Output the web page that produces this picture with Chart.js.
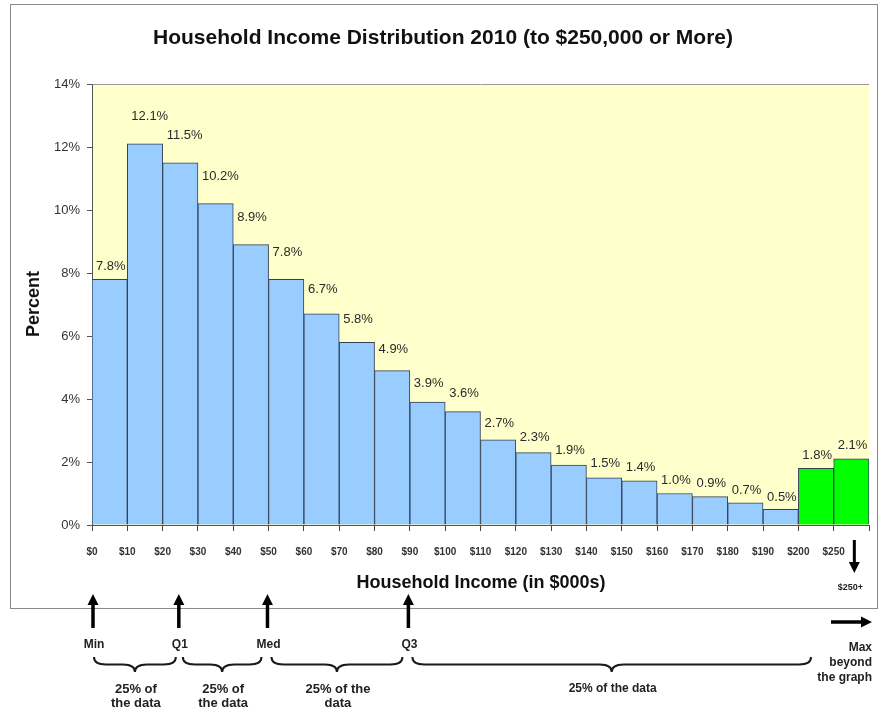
<!DOCTYPE html>
<html>
<head>
<meta charset="utf-8">
<script src="https://cdn.jsdelivr.net/npm/chart.js@4.4.0/dist/chart.umd.min.js"></script>
<style>
  html, body { margin: 0; padding: 0; background: #ffffff; }
  #wrap { width: 884px; height: 711px; position: relative; }
</style>
</head>
<body>
<div id="wrap"><canvas id="c" width="884" height="711"></canvas></div>
<script>
// Lower edge of each income bin, in $000s
const binStart = [0, 10, 20, 30, 40, 50, 60, 70, 80, 90, 100, 110, 120, 130, 140, 150, 160, 170, 180, 190, 200, 250];
// Share of households in each bin (%)
const percent = [7.8, 12.1, 11.5, 10.2, 8.9, 7.8, 6.7, 5.8, 4.9, 3.9, 3.6, 2.7, 2.3, 1.9, 1.5, 1.4, 1.0, 0.9, 0.7, 0.5, 1.8, 2.1];
// Labels at the bin edges along the income axis
const tickLabels = ['$0', '$10', '$20', '$30', '$40', '$50', '$60', '$70', '$80', '$90', '$100', '$110', '$120', '$130', '$140', '$150', '$160', '$170', '$180', '$190', '$200', '$250', ''];
const yTicks = [0, 2, 4, 6, 8, 10, 12, 14];
// Five-number summary markers (income in $000s)
const markerNames = ['Min', 'Q1', 'Med', 'Q3'];
const markerIncome = [0, 24.3, 49.4, 89.3];
const spanText = [['25% of', 'the data'], ['25% of', 'the data'], ['25% of the', 'data'], ['25% of the data']];
const maxText = ['Max', 'beyond', 'the graph'];

const FONT = '"Liberation Sans", Arial, Helvetica, sans-serif';
const INK = '#222222';

function arrow(ctx, x1, y1, x2, y2, head, halfW, lw) {
  const ang = Math.atan2(y2 - y1, x2 - x1);
  const bx = x2 - Math.cos(ang) * head, by = y2 - Math.sin(ang) * head;
  ctx.save();
  ctx.strokeStyle = '#000'; ctx.fillStyle = '#000'; ctx.lineWidth = lw;
  ctx.beginPath(); ctx.moveTo(x1, y1); ctx.lineTo(bx, by); ctx.stroke();
  ctx.beginPath();
  ctx.moveTo(x2, y2);
  ctx.lineTo(bx + Math.sin(ang) * halfW, by - Math.cos(ang) * halfW);
  ctx.lineTo(bx - Math.sin(ang) * halfW, by + Math.cos(ang) * halfW);
  ctx.closePath(); ctx.fill();
  ctx.restore();
}

function brace(ctx, x1, x2, yTop, depth) {
  const tip = (x1 + x2) / 2;
  const yMid = yTop + depth / 2, yTip = yTop + depth;
  const r = Math.min(12, (x2 - x1) / 5);
  ctx.beginPath();
  ctx.moveTo(x1, yTop);
  ctx.quadraticCurveTo(x1, yMid, x1 + r, yMid);
  ctx.lineTo(tip - r, yMid);
  ctx.quadraticCurveTo(tip, yMid, tip, yTip);
  ctx.quadraticCurveTo(tip, yMid, tip + r, yMid);
  ctx.lineTo(x2 - r, yMid);
  ctx.quadraticCurveTo(x2, yMid, x2, yTop);
  ctx.stroke();
}

const decor = {
  id: 'decor',
  beforeDraw(chart) {
    const { ctx, chartArea: a } = chart;
    ctx.save();
    ctx.fillStyle = '#ffffff';
    ctx.fillRect(0, 0, chart.width, chart.height);
    // chart frame
    ctx.strokeStyle = '#8a8a8a'; ctx.lineWidth = 1;
    ctx.strokeRect(10.5, 4.5, 867, 604);
    // plot area
    ctx.fillStyle = '#ffffcc';
    ctx.fillRect(a.left, a.top, a.right - a.left, a.bottom - a.top);
    ctx.strokeStyle = '#9a9a9a';
    ctx.beginPath(); ctx.moveTo(a.left, a.top + 0.5); ctx.lineTo(a.right, a.top + 0.5); ctx.stroke();
    ctx.restore();
  },
  afterDatasetsDraw(chart) {
    const { ctx } = chart;
    const meta = chart.getDatasetMeta(0);
    ctx.save();
    ctx.font = '13px ' + FONT;
    ctx.fillStyle = '#2a2a2a';
    ctx.textAlign = 'left';
    ctx.textBaseline = 'middle';
    meta.data.forEach((bar, i) => {
      const v = percent[i];
      const rising = i === 0 || v > percent[i - 1];
      const off = (rising && v < 10) ? 13 : Math.min(11 + 2 * v, 27);
      ctx.fillText(v.toFixed(1) + '%', bar.x - bar.width / 2 + 4, bar.y - off);
    });
    ctx.restore();
  },
  afterDraw(chart) {
    const { ctx, chartArea: a } = chart;
    const xs = chart.scales.x;
    ctx.save();
    ctx.fillStyle = '#111';
    ctx.textAlign = 'center';
    ctx.textBaseline = 'middle';
    ctx.font = 'bold 21px ' + FONT;
    ctx.fillText('Household Income Distribution 2010 (to $250,000 or More)', 443, 38);
    ctx.font = 'bold 18px ' + FONT;
    ctx.fillText('Household Income (in $000s)', 481, 583);
    ctx.save();
    ctx.translate(34, 304); ctx.rotate(-Math.PI / 2);
    ctx.fillText('Percent', 0, 0);
    ctx.restore();

    // open-ended top bin
    const lastBar = chart.getDatasetMeta(0).data[percent.length - 1];
    arrow(ctx, lastBar.x + 3, 540, lastBar.x + 3, 573, 11, 5.5, 3);
    ctx.font = 'bold 9px ' + FONT;
    ctx.fillStyle = INK;
    ctx.fillText('$250+', lastBar.x - 1, 588);

    // summary markers
    const mx = markerIncome.map(v => xs.getPixelForValue(v / 10));
    ctx.font = 'bold 12px ' + FONT;
    mx.forEach((x, i) => {
      arrow(ctx, x + 1, 628, x + 1, 594, 11, 5.5, 3.5);
      ctx.fillStyle = INK;
      ctx.fillText(markerNames[i], x + 2, 645);
    });

    // max marker
    const rx = a.right + 3;
    arrow(ctx, rx - 41, 622, rx, 622, 11, 5.5, 3.5);
    ctx.textAlign = 'right';
    ctx.fillStyle = INK;
    maxText.forEach((t, i) => ctx.fillText(t, rx, 648 + i * 15));

    // braces between markers
    const ends = mx.concat([a.right - 53]);
    ctx.strokeStyle = '#1a1a1a';
    ctx.lineWidth = 2;
    ctx.textAlign = 'center';
    for (let i = 0; i < spanText.length; i++) {
      const inset = i === 0 ? 2 : 5;
      const x1 = ends[i] + inset, x2 = ends[i + 1] - inset;
      brace(ctx, x1, x2, 657, 15);
      ctx.font = 'bold ' + (spanText[i].length === 1 ? 12 : 13) + 'px ' + FONT;
      spanText[i].forEach((t, j) => ctx.fillText(t, (x1 + x2) / 2 + 1, 689 + j * 14));
    }
    ctx.restore();
  }
};

const ctx = document.getElementById('c').getContext('2d');
new Chart(ctx, {
  type: 'bar',
  data: {
    datasets: [{
      data: percent.map((v, i) => ({ x: i + 0.5, y: v })),
      backgroundColor: binStart.map(b => b >= 200 ? '#00ff00' : '#99ccff'),
      borderColor: '#34405a',
      borderWidth: 1,
      barPercentage: 1,
      categoryPercentage: 1
    }]
  },
  options: {
    responsive: false,
    animation: false,
    devicePixelRatio: 1,
    layout: { padding: { left: 0, top: 84, right: 14, bottom: 146 } },
    plugins: { legend: { display: false }, tooltip: { enabled: false } },
    scales: {
      x: {
        type: 'linear',
        min: 0,
        max: tickLabels.length - 1,
        offset: false,
        afterBuildTicks: s => { s.ticks = tickLabels.map((_, i) => ({ value: i })); },
        afterFit: s => { s.height = 40; },
        grid: { drawOnChartArea: false, drawTicks: true, tickLength: 6, color: '#444', offset: false },
        border: { display: true, color: '#555', width: 1 },
        ticks: {
          autoSkip: false, maxRotation: 0, minRotation: 0, padding: 15,
          color: '#333', font: { family: FONT, size: 10, weight: 'bold' },
          callback: (v) => tickLabels[Math.round(v)] ?? ''
        }
      },
      y: {
        min: 0,
        max: 14,
        afterBuildTicks: s => { s.ticks = yTicks.map(v => ({ value: v })); },
        afterFit: s => { s.width = 92; },
        grid: { drawOnChartArea: false, drawTicks: true, tickLength: 5, color: '#555' },
        border: { display: true, color: '#555', width: 1 },
        ticks: {
          padding: 7, color: '#333', font: { family: FONT, size: 13 },
          callback: v => v + '%'
        }
      }
    }
  },
  plugins: [decor]
});
</script>
</body>
</html>
